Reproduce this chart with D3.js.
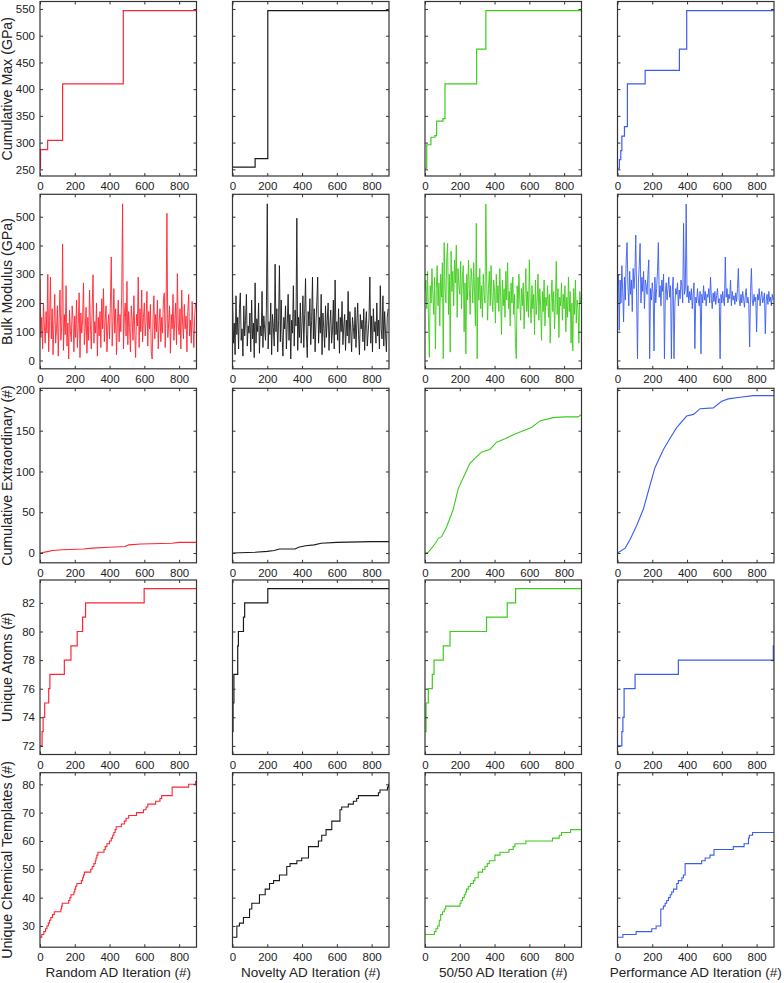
<!DOCTYPE html>
<html>
<head>
<meta charset="utf-8">
<script src="https://cdn.jsdelivr.net/npm/d3@7"></script>
<style>
  html, body { margin: 0; padding: 0; background: #fff; }
  svg { display: block; }
  text { font-family: "Liberation Sans", Arial, Helvetica, sans-serif; fill: #222; }
</style>
</head>
<body>
<svg id="chart" width="784" height="983"></svg>
<script>
// ---------------- DATA ----------------
const columnTitles = ["Random AD Iteration (#)", "Novelty AD Iteration (#)", "50/50 AD Iteration (#)", "Performance AD Iteration (#)"];
const rowLabels = ["Cumulative Max (GPa)", "Bulk Modulus (GPa)", "Cumulative Extraordinary (#)", "Unique Atoms (#)", "Unique Chemical Templates (#)"];
const seriesColors = ["#ff2632", "#1a1a1a", "#3dcc1a", "#3a5cf0"];
const xTicks = [0, 200, 400, 600, 800];
const xDomain = [0, 900];
const yDomains = [[237.5, 564], [-29, 578], [-12, 202], [71.4, 83.6], [22.5, 84.1]];
const yTicks = [
  [250, 300, 350, 400, 450, 500, 550],
  [0, 100, 200, 300, 400, 500],
  [0, 50, 100, 150, 200],
  [72, 74, 76, 78, 80, 82],
  [30, 40, 50, 60, 70, 80]
];

// Row 1: cumulative max (step changes: iteration, value)
const cumMaxRandomIter = [0, 3, 44, 130, 479];
const cumMaxRandomVal  = [252, 287, 304, 410, 547];
const cumMaxNoveltyIter = [0, 130, 203];
const cumMaxNoveltyVal  = [254, 270, 547];
const cumMax5050Iter = [0, 10, 34, 57, 67, 103, 115, 297, 350];
const cumMax5050Val  = [252, 296, 310, 313, 340, 345, 410, 475, 547];
const cumMaxPerfIter = [0, 11, 19, 25, 40, 57, 159, 356, 398];
const cumMaxPerfVal  = [252, 268, 285, 312, 330, 410, 435, 475, 547];

// Row 2: bulk modulus, sampled every 5 iterations (0, 5, ..., 895)
const bulkIter = d3.range(0, 900, 5);
const bulkRandom = [
  285,80,150,40,200,120,60,170,95,300,30,140,290,75,180,20,130,230,60,110,
  190,15,145,245,70,120,405,35,160,90,260,50,130,5,175,100,65,190,140,30,
  155,80,210,45,125,235,10,165,95,140,270,55,110,185,25,150,70,245,120,40,
  180,298,60,135,95,200,15,150,85,170,45,215,110,250,65,140,190,30,120,160,
  75,205,360,50,140,250,95,180,20,130,210,65,160,100,235,545,40,150,200,85,
  275,55,170,115,30,190,140,70,225,95,10,160,120,290,45,180,100,245,65,150,
  200,85,135,240,50,170,110,195,30,5,145,225,75,160,100,210,40,130,180,65,
  150,95,215,235,45,170,512,80,130,190,25,160,110,230,70,140,200,55,302,120,
  90,180,40,245,130,75,195,110,155,30,170,230,85,140,60,205,115,45,160,200
];
const bulkNovelty = [
  240,60,130,20,225,90,150,40,180,235,70,110,15,190,85,140,230,50,120,95,
  165,30,210,75,130,10,270,60,145,100,200,25,120,85,240,45,155,110,70,180,
  545,40,135,90,200,20,160,115,50,335,100,180,30,140,330,65,210,90,15,150,
  110,190,40,125,230,70,160,5,140,95,260,50,175,120,495,35,150,80,200,60,
  130,225,45,160,285,90,10,170,120,215,55,140,290,75,180,30,130,205,290,60,
  150,95,230,20,165,110,45,190,80,140,200,35,125,175,60,105,210,40,280,90,
  135,70,180,25,150,100,205,55,120,160,35,140,85,240,60,170,100,30,150,115,
  75,185,45,130,200,90,20,160,110,140,65,180,35,125,170,50,95,145,290,60,
  155,30,180,100,135,60,200,85,140,40,260,110,75,225,50,170,95,30,150,180
];
const bulk5050 = [
  240,280,180,310,140,11,260,200,320,230,160,290,40,250,330,190,270,120,300,220,
  340,6,410,250,200,355,407,160,300,29,380,240,310,190,350,270,401,150,320,260,
  230,345,180,290,330,100,270,23,300,210,349,250,160,320,280,200,340,240,120,477,
  6,290,210,320,180,260,150,300,230,200,544,270,140,250,310,190,330,220,170,280,
  240,130,300,200,260,170,320,220,90,280,190,250,150,310,210,340,180,240,120,270,
  200,290,160,230,60,6,260,180,300,210,140,250,190,270,110,230,320,170,240,150,
  350,200,130,260,180,230,90,280,160,210,300,140,250,190,70,240,170,280,120,220,
  190,260,150,230,60,200,280,170,240,110,210,345,160,250,80,220,190,270,140,230,
  180,260,100,220,150,290,170,240,60,200,33,250,160,280,130,210,180,60,240,200
];
const bulkPerf = [
  250,300,105,280,200,330,240,134,290,210,350,410,260,190,310,230,280,170,320,250,
  300,436,220,6,270,330,407,200,290,240,310,180,280,260,230,300,350,6,250,210,
  270,230,33,290,200,250,310,410,220,260,190,280,240,300,6,230,270,210,250,290,
  220,260,6,240,290,6,200,250,230,270,190,245,215,280,260,200,477,230,250,544,
  220,260,200,240,210,250,180,230,270,41,220,200,250,210,190,240,23,230,200,260,
  210,240,190,230,220,250,200,290,215,180,235,205,240,195,225,250,200,215,6,230,
  200,240,210,190,360,220,250,200,230,215,280,190,240,210,225,195,235,205,250,320,
  210,190,230,200,240,215,185,225,250,200,220,195,47,240,320,210,190,230,205,220,
  99,230,210,250,190,220,240,200,215,235,93,210,230,195,240,205,220,190,230,210
];

// Row 3: cumulative extraordinary
const extraRandomIter = [0, 50, 70, 130, 250, 300, 400, 490, 510, 580, 760, 800, 900];
const extraRandomVal  = [0, 2, 3, 4, 5, 6, 7, 8, 10, 11, 12, 13, 13];
const extraNoveltyIter = [0, 130, 200, 240, 270, 360, 380, 420, 470, 510, 600, 800, 900];
const extraNoveltyVal  = [0, 1, 2, 3, 5, 5, 7, 9, 10, 12, 13, 14, 14];
const extra5050Iter = [0, 19, 57, 77, 96, 124, 163, 191, 230, 258, 287, 326, 373, 412, 460, 507, 565, 613, 661, 737, 804, 881, 900];
const extra5050Val  = [0, 1, 11, 18, 20, 32, 54, 79, 97, 110, 116, 124, 127, 136, 140, 145, 150, 154, 162, 166, 167, 167, 170];
const extraPerfIter = [0, 44, 73, 111, 149, 188, 216, 264, 303, 341, 398, 437, 475, 551, 599, 637, 705, 781, 900];
const extraPerfVal  = [0, 6, 17, 34, 54, 84, 105, 127, 141, 154, 168, 170, 177, 178, 186, 189, 191, 193, 193];

// Row 4: unique atoms (steps)
const atomsRandomIter = [0, 12, 18, 27, 50, 57, 140, 178, 214, 245, 262, 599];
const atomsRandomVal  = [72, 73, 74, 75, 76, 77, 78, 79, 80, 81, 82, 83];
const atomsNoveltyIter = [0, 3, 8, 30, 34, 63, 70, 203];
const atomsNoveltyVal  = [73, 75, 77, 79, 80, 81, 82, 83];
const atoms5050Iter = [0, 6, 19, 42, 52, 105, 144, 354, 473, 521];
const atoms5050Val  = [73, 75, 76, 77, 78, 79, 80, 81, 82, 83];
const atomsPerfIter = [0, 25, 31, 38, 101, 350, 896];
const atomsPerfVal  = [72, 73, 74, 76, 77, 78, 79];

// Row 5: unique chemical templates (steps)
const tmplRandomIter = [0,10,22,32,40,48,55,62,72,82,120,124,128,165,172,178,195,200,205,212,238,245,250,255,292,300,310,318,322,327,333,368,375,385,400,410,418,425,432,438,468,485,495,510,555,595,610,620,665,690,700,760,855,895];
const tmplRandomVal  = [26,27,28,29,30,31,32,33,34,35,36,37,38,39,40,41,42,43,44,45,46,47,48,49,50,51,52,53,54,55,56,57,58,59,60,61,62,63,64,65,66,67,68,69,70,71,72,73,74,75,76,79,80,81];
const tmplNoveltyIter = [0,25,40,63,98,111,155,188,213,236,270,312,331,370,398,437,494,513,538,571,618,628,666,695,714,724,839,848,891,897];
const tmplNoveltyVal  = [26,30,31,33,36,38,41,43,45,46,48,51,52,53,54,58,60,62,64,67,71,72,73,74,75,76,77,78,79,80];
const tmpl5050Iter = [0,54,63,73,82,90,101,111,119,201,207,216,226,234,239,249,262,278,287,306,331,345,358,370,402,431,483,507,517,580,733,772,785,837];
const tmpl5050Val  = [27,28,29,30,32,34,35,36,37,38,39,40,41,42,43,44,45,46,47,49,50,51,52,53,55,56,57,58,59,60,61,62,63,64];
const tmplPerfIter = [0,31,107,197,222,249,264,274,283,293,303,312,322,341,350,370,379,389,484,504,532,555,666,728,753,758,777];
const tmplPerfVal  = [26,27,28,29,30,36,37,38,39,40,41,42,43,45,46,47,48,52,53,54,55,57,58,59,61,62,63];

// ---------------- LAYOUT ----------------
const colLeft = [40, 232.5, 425, 617.5];
const panelW = 156.5;
const rowTop = [1.5, 194.3, 388.3, 580, 772.7];
const panelH = 174.5;

const grid = [
  [[cumMaxRandomIter, cumMaxRandomVal], [cumMaxNoveltyIter, cumMaxNoveltyVal], [cumMax5050Iter, cumMax5050Val], [cumMaxPerfIter, cumMaxPerfVal]],
  [[bulkIter, bulkRandom], [bulkIter, bulkNovelty], [bulkIter, bulk5050], [bulkIter, bulkPerf]],
  [[extraRandomIter, extraRandomVal], [extraNoveltyIter, extraNoveltyVal], [extra5050Iter, extra5050Val], [extraPerfIter, extraPerfVal]],
  [[atomsRandomIter, atomsRandomVal], [atomsNoveltyIter, atomsNoveltyVal], [atoms5050Iter, atoms5050Val], [atomsPerfIter, atomsPerfVal]],
  [[tmplRandomIter, tmplRandomVal], [tmplNoveltyIter, tmplNoveltyVal], [tmpl5050Iter, tmpl5050Val], [tmplPerfIter, tmplPerfVal]]
];
const rowCurve = [d3.curveStepAfter, d3.curveLinear, d3.curveLinear, d3.curveStepAfter, d3.curveStepAfter];
const rowStroke = [1.2, 0.9, 1.1, 1.2, 1.1];

const svg = d3.select("#chart");
const tickLen = 3;

grid.forEach((row, r) => {
  row.forEach((cell, c) => {
    const x = d3.scaleLinear().domain(xDomain).range([0, panelW]);
    const y = d3.scaleLinear().domain(yDomains[r]).range([panelH, 0]);
    const g = svg.append("g").attr("transform", `translate(${colLeft[c]},${rowTop[r]})`);

    const clipId = `clip-${r}-${c}`;
    g.append("clipPath").attr("id", clipId).append("rect").attr("width", panelW).attr("height", panelH);

    const [iters, vals] = cell;
    const pts = iters.map((it, i) => [it, vals[i]]);
    if (rowCurve[r] === d3.curveStepAfter) pts.push([xDomain[1], vals[vals.length - 1]]);
    const line = d3.line().x(d => x(d[0])).y(d => y(d[1])).curve(rowCurve[r]);
    g.append("path")
      .attr("clip-path", `url(#${clipId})`)
      .attr("d", line(pts))
      .attr("fill", "none")
      .attr("stroke", seriesColors[c])
      .attr("stroke-width", rowStroke[r])
      .attr("stroke-linejoin", "miter");

    const bottom = g.append("g").attr("transform", `translate(0,${panelH})`)
      .call(d3.axisBottom(x).tickValues(xTicks).tickSizeInner(-tickLen).tickSizeOuter(0).tickPadding(6));
    const top = g.append("g")
      .call(d3.axisTop(x).tickValues(xTicks).tickSizeInner(-tickLen).tickSizeOuter(0).tickFormat(""));
    const left = g.append("g")
      .call(d3.axisLeft(y).tickValues(yTicks[r]).tickSizeInner(-tickLen).tickSizeOuter(0).tickPadding(5)
        .tickFormat(c === 0 ? d3.format("d") : ""));
    const right = g.append("g").attr("transform", `translate(${panelW},0)`)
      .call(d3.axisRight(y).tickValues(yTicks[r]).tickSizeInner(-tickLen).tickSizeOuter(0).tickFormat(""));

    [bottom, top, left, right].forEach(a => {
      a.select(".domain").remove();
      a.selectAll(".tick line").attr("stroke", "#333").attr("stroke-width", 1);
      a.selectAll(".tick text").attr("font-size", 11.5).attr("fill", "#222")
        .style("font-family", '"Liberation Sans", Arial, sans-serif');
    });

    g.append("rect").attr("width", panelW).attr("height", panelH)
      .attr("fill", "none").attr("stroke", "#333").attr("stroke-width", 1.2);

    if (c === 0) {
      g.append("text")
        .attr("transform", `translate(${8.5 - colLeft[0]},${panelH / 2}) rotate(-90)`)
        .attr("text-anchor", "middle")
        .attr("dominant-baseline", "middle")
        .attr("font-size", 14.2)
        .text(rowLabels[r]);
    }
    if (r === grid.length - 1) {
      g.append("text")
        .attr("x", panelW / 2)
        .attr("y", panelH + 30)
        .attr("text-anchor", "middle")
        .attr("font-size", 13.5)
        .text(columnTitles[c]);
    }
  });
});
</script>
</body>
</html>
